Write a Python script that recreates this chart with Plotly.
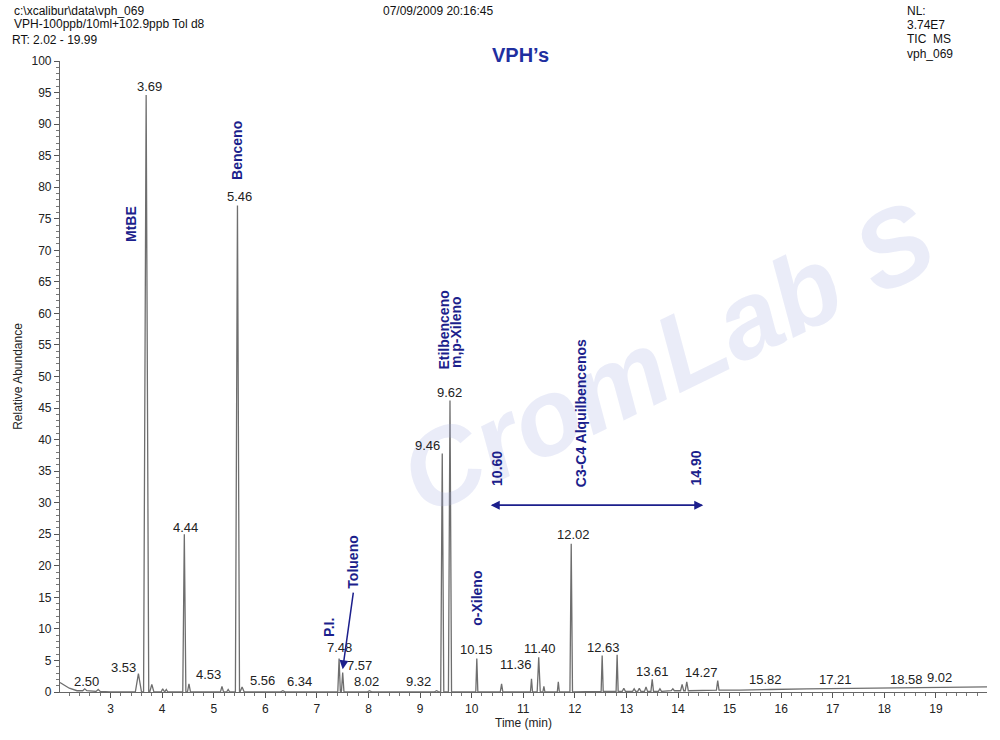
import plotly.graph_objects as go

# ---------------- data ----------------
peak_rt = [2.50, 2.76, 3.54, 3.69, 3.80, 4.01, 4.08, 4.43, 4.52, 5.16, 5.28, 5.46, 5.55,
           6.34, 7.43, 7.50, 8.02, 9.32, 9.43, 9.58, 10.10, 10.58, 11.16, 11.30, 11.40,
           11.68, 11.93, 12.53, 12.82, 12.95, 13.15, 13.25, 13.38, 13.50, 13.65, 13.90,
           14.08, 14.17, 14.77, 15.70]
peak_height = [0.5, 0.4, 2.9, 94.6, 1.2, 0.5, 0.4, 25.0, 1.3, 0.9, 0.4, 77.1, 0.8,
               0.2, 5.3, 3.1, 0.2, 0.2, 37.8, 46.2, 5.3, 1.3, 2.1, 5.5, 0.9,
               1.6, 23.5, 5.8, 5.9, 0.6, 0.5, 0.6, 0.8, 2.0, 0.5, 0.5,
               1.2, 1.6, 1.8, 0.5]
peak_halfwidth = [0.04, 0.04, 0.06, 0.05, 0.04, 0.03, 0.03, 0.03, 0.03, 0.03, 0.03, 0.04, 0.04,
                  0.05, 0.025, 0.025, 0.05, 0.05, 0.03, 0.03, 0.02, 0.025, 0.02, 0.03, 0.02,
                  0.02, 0.025, 0.02, 0.02, 0.03, 0.03, 0.03, 0.03, 0.025, 0.03, 0.03,
                  0.03, 0.03, 0.025, 0.08]
peak_base = [0.2, 0.1, 0.0, 0.0, 0.0, 0.0, 0.0, 0.0, 0.0, 0.0, 0.0, 0.0, 0.0,
             0.0, 0.0, 0.0, 0.0, 0.0, 0.0, 0.0, 0.0, 0.0, 0.0, 0.0, 0.0,
             0.0, 0.0, 0.1, 0.1, 0.1, 0.1, 0.1, 0.1, 0.1, 0.1, 0.2,
             0.2, 0.2, 0.3, 0.4]
baseline_rt = [2.02, 2.20, 2.35, 3.00, 15.20, 16.50, 18.00, 19.99]
baseline_val = [1.5, 0.6, 0.2, 0.0, 0.3, 0.5, 0.6, 0.8]

# peak number labels: text, rt position, abundance position
rt_labels = ["2.50", "3.53", "3.69", "4.44", "4.53", "5.46", "5.56", "6.34", "7.48", "7.57",
             "8.02", "9.32", "9.46", "9.62", "10.15", "11.36", "11.40", "12.02", "12.63",
             "13.61", "14.27", "15.82", "17.21", "18.58", "9.02"]
rt_label_x = [2.53, 3.25, 3.75, 4.45, 4.89, 5.49, 5.94, 6.67, 7.44, 7.83,
              7.97, 8.96, 9.15, 9.57, 10.09, 10.85, 11.33, 11.97, 12.55,
              13.51, 14.45, 15.69, 17.05, 18.42, 19.07]
rt_label_y = [1.6, 3.9, 95.9, 26.1, 2.7, 78.6, 1.9, 1.6, 7.0, 4.2,
              1.6, 1.6, 39.1, 47.4, 6.7, 4.4, 6.9, 24.9, 7.0,
              3.2, 3.1, 2.0, 2.0, 2.0, 2.3]

# compound labels (rotated)
comp_labels = ["MtBE", "Benceno", "Etilbenceno", "m,p-Xileno", "10.60", "C3-C4 Alquilbencenos",
               "14.90", "P.I.", "Tolueno", "o-Xileno"]
comp_x = [3.40, 5.45, 9.46, 9.71, 10.49, 12.11, 14.34, 7.22, 7.70, 10.10]
comp_y = [74.2, 85.9, 57.4, 57.0, 35.5, 44.1, 35.5, 10.2, 20.5, 14.9]

range_start, range_end = 10.37, 14.49
range_y = 29.6
tol_arrow_from = (7.71, 16.0)
tol_arrow_to = (7.50, 3.6)

y_ticks = list(range(0, 101, 5))
x_ticks = list(range(3, 20))

# ---------------- build trace ----------------
pts = list(zip(baseline_rt, baseline_val))
for t, h, w, b in zip(peak_rt, peak_height, peak_halfwidth, peak_base):
    pts += [(t - w, b), (t, h), (t + w, b)]
pts.sort(key=lambda p: p[0])
xs = [p[0] for p in pts]
ys = [p[1] for p in pts]

fig = go.Figure()
fig.add_trace(go.Scatter(x=xs, y=ys, mode="lines",
                         line=dict(color="#6e6e6e", width=1.3), hoverinfo="skip"))

NAVY = "#1c1f8c"
FONT = "Liberation Sans, Arial, sans-serif"

ann = []
# faint watermark
ann.append(dict(xref="paper", yref="paper", x=0.655, y=0.53, text="<i><b>CromLab S</b></i>",
                showarrow=False, textangle=-26, font=dict(size=108, color="rgba(160,168,222,0.22)",
                family=FONT)))

for t, x, y in zip(rt_labels, rt_label_x, rt_label_y):
    ann.append(dict(x=x, y=y, text=t, showarrow=False, font=dict(size=13, color="#222", family=FONT)))

for t, x, y in zip(comp_labels, comp_x, comp_y):
    ann.append(dict(x=x, y=y, text="<b>%s</b>" % t, showarrow=False, textangle=-90,
                    font=dict(size=14, color=NAVY, family=FONT)))

for end, other in ((range_start, range_end), (range_end, range_start)):
    ann.append(dict(x=end, y=range_y, ax=other, ay=range_y, xref="x", yref="y", axref="x", ayref="y",
                    text="", showarrow=True, arrowhead=2, arrowsize=1.2, arrowwidth=1.5,
                    arrowcolor=NAVY, startstandoff=0))
ann.append(dict(x=tol_arrow_to[0], y=tol_arrow_to[1], ax=tol_arrow_from[0], ay=tol_arrow_from[1],
                xref="x", yref="y", axref="x", ayref="y", text="", showarrow=True, arrowhead=2,
                arrowsize=1.2, arrowwidth=1.5, arrowcolor=NAVY))

# header texts
def P(x, y):
    return (x - 60) / 927.0, (700 - y) / 639.0

hdr = [("c:\\xcalibur\\data\\vph_069", 12, 10, "left"),
       ("VPH-100ppb/10ml+102.9ppb Tol d8", 12, 24, "left"),
       ("RT: 2.02 - 19.99", 10, 40, "left"),
       ("07/09/2009 20:16:45", 438, 10, "center"),
       ("NL:", 905, 10, "left"),
       ("3.74E7", 905, 25, "left"),
       ("TIC  MS", 905, 39, "left"),
       ("vph_069", 905, 54, "left")]
for t, x, y, a in hdr:
    px, py = P(x, y)
    ann.append(dict(xref="paper", yref="paper", x=px, y=py, text=t, showarrow=False,
                    xanchor=a, yanchor="middle", font=dict(size=12, color="#111", family=FONT)))
px, py = P(520, 42)
ann.append(dict(xref="paper", yref="paper", x=px, y=py, text="<b>VPH’s</b>", showarrow=False,
                font=dict(size=20, color="#1f2fa0", family=FONT)))

fig.update_layout(
    width=1000, height=740,
    margin=dict(l=60, r=13, t=61, b=40),
    paper_bgcolor="white", plot_bgcolor="white",
    showlegend=False,
    annotations=ann,
    font=dict(family=FONT, size=12, color="#222"),
    xaxis=dict(range=[2.02, 19.99], tickvals=x_ticks, ticks="outside", ticklen=5,
               tickcolor="#555", showline=True, linecolor="#666", linewidth=1.2,
               showgrid=False, zeroline=False,
               minor=dict(dtick=0.2, tick0=2, ticks="outside", ticklen=3, tickcolor="#777"),
               title=dict(text="Time (min)", font=dict(size=12), standoff=4),
               tickfont=dict(size=12, color="#222")),
    yaxis=dict(range=[0, 100], tickvals=y_ticks, ticks="outside", ticklen=5,
               tickcolor="#555", showline=True, linecolor="#666", linewidth=1.2,
               showgrid=False, zeroline=False,
               minor=dict(dtick=1, ticks="outside", ticklen=3, tickcolor="#777"),
               title=dict(text="Relative Abundance", font=dict(size=12), standoff=6),
               tickfont=dict(size=12, color="#222")),
)

fig.write_html("out.html")
